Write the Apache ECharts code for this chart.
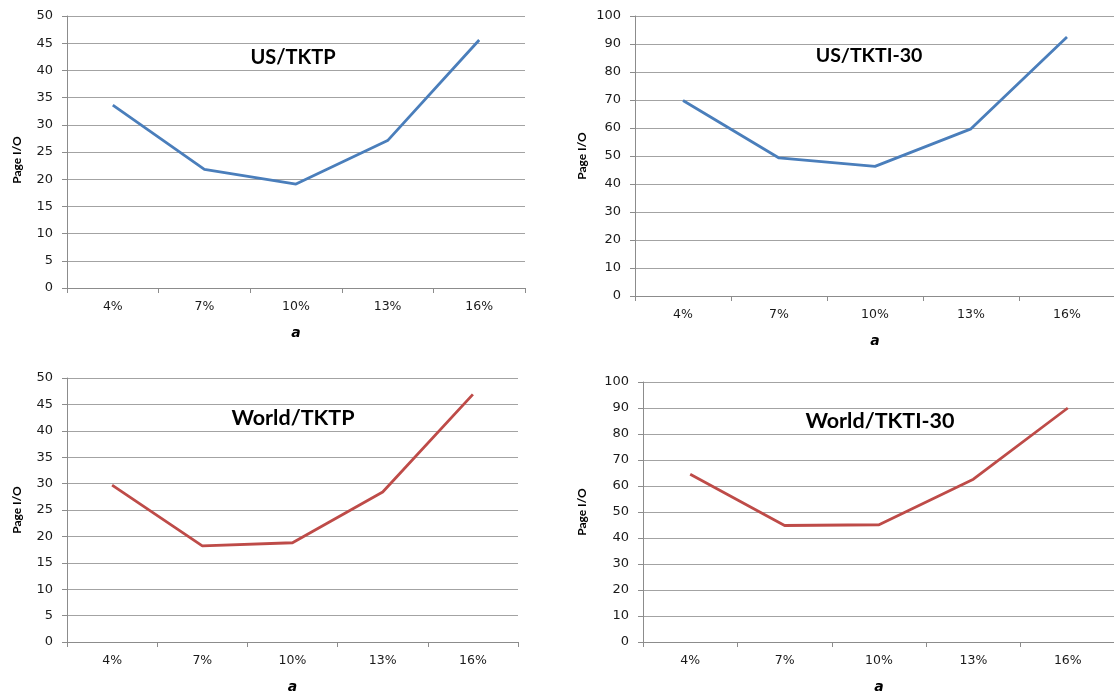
<!DOCTYPE html>
<html>
<head>
<meta charset="utf-8">
<script src="https://cdn.jsdelivr.net/npm/echarts@6/dist/echarts.min.js"></script>
<style>html,body{margin:0;padding:0;background:#fff}#c{width:1114px;height:694px}</style>
</head>
<body>
<div id="c"></div>
<script>
const categories = ['4%', '7%', '10%', '13%', '16%'];
const usTKTP = [33.6, 21.8, 19.1, 27.1, 45.6];
const usTKTI30 = [69.8, 49.3, 46.3, 59.7, 92.5];
const worldTKTP = [29.7, 18.2, 18.8, 28.4, 46.9];
const worldTKTI30 = [64.5, 44.8, 45.1, 62.6, 90.0];
const titles = ['US/TKTP', 'US/TKTI-30', 'World/TKTP', 'World/TKTI-30'];
const yMax = [50, 100, 50, 100];
const yStep = [5, 10, 5, 10];
const seriesData = [usTKTP, usTKTI30, worldTKTP, worldTKTI30];
const lineColors = ['#4A7EBB', '#4A7EBB', '#BE4B48', '#BE4B48'];

const grids = [
  {left: 67, top: 16, width: 458, height: 272, outerBoundsMode: 'none'},
  {left: 635, top: 16, width: 480, height: 280, outerBoundsMode: 'none'},
  {left: 67, top: 378, width: 451, height: 264, outerBoundsMode: 'none'},
  {left: 643, top: 382, width: 472, height: 260, outerBoundsMode: 'none'}
];
const titlePos = [[288, 53], [864, 51], [288, 413], [875, 416]];
const titleSize = [20, 19.5, 21.5, 21.5];
const yNameGap = [44, 47, 44, 55];
const yNamePad = [[0, 16, 0, 0], 0, 0, 0];

const chart = echarts.init(document.getElementById('c'));
const gridLine = '#A3A3A3';
const axisLine = '#8C8C8C';
const txt = '#1a1a1a';
const opt = {
  animation: false,
  grid: grids,
  title: titles.map((t, i) => ({
    text: t, left: titlePos[i][0], top: titlePos[i][1], textAlign: 'center', textVerticalAlign: 'middle',
    textStyle: {fontFamily: 'Lato', fontWeight: 'bold', fontSize: titleSize[i], color: '#000'}
  })),
  xAxis: grids.map((g, i) => ({
    type: 'category', gridIndex: i, data: categories, boundaryGap: true,
    name: 'a', nameLocation: 'middle', nameGap: 38,
    nameTextStyle: {fontFamily: 'DejaVu Sans', fontStyle: 'italic', fontWeight: 'bold', fontSize: 14, color: '#000'},
    axisLine: {lineStyle: {color: axisLine, width: 1}},
    axisTick: {show: true, length: 5, lineStyle: {color: axisLine}},
    axisLabel: {fontFamily: 'DejaVu Sans', fontSize: 12.5, color: txt, margin: 12},
    splitLine: {show: false}
  })),
  yAxis: grids.map((g, i) => ({
    type: 'value', gridIndex: i, min: 0, max: yMax[i], interval: yStep[i],
    name: 'Page I/O', nameLocation: 'middle', nameGap: yNameGap[i], nameRotate: 90,
    nameTextStyle: {fontFamily: 'Lato', fontWeight: 'bold', fontSize: 12, color: '#000', padding: yNamePad[i]},
    axisLine: {show: true, lineStyle: {color: axisLine, width: 1}},
    axisTick: {show: true, length: 5, lineStyle: {color: axisLine}},
    axisLabel: {fontFamily: 'DejaVu Sans', fontSize: 13, color: txt, margin: 14},
    splitLine: {show: true, lineStyle: {color: gridLine, width: 1}}
  })),
  series: seriesData.map((d, i) => ({
    type: 'line', xAxisIndex: i, yAxisIndex: i, data: d, showSymbol: false, symbol: 'none',
    lineStyle: {color: lineColors[i], width: 2.8}
  }))
};
chart.setOption(opt);
</script>
</body>
</html>
